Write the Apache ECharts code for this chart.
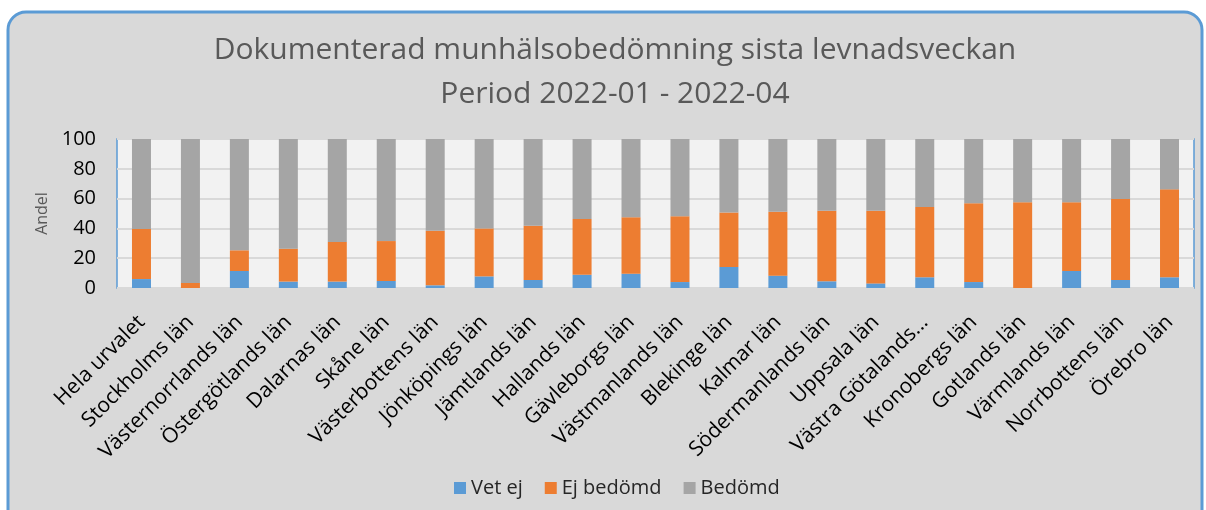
<!DOCTYPE html>
<html>
<head>
<meta charset="utf-8">
<script src="https://cdn.jsdelivr.net/npm/echarts@6/dist/echarts.min.js"></script>
<style>
    html, body { margin: 0; padding: 0; background: #fff; }
    #chart { width: 1206px; height: 510px; }
</style>
</head>
<body>
<div id="chart"></div>
<script>
// data (percent)
var categories = [
    "Hela urvalet", "Stockholms län", "Västernorrlands län", "Östergötlands län",
    "Dalarnas län", "Skåne län", "Västerbottens län", "Jönköpings län",
    "Jämtlands län", "Hallands län", "Gävleborgs län", "Västmanlands län",
    "Blekinge län", "Kalmar län", "Södermanlands län", "Uppsala län",
    "Västra Götalands...", "Kronobergs län", "Gotlands län", "Värmlands län",
    "Norrbottens län", "Örebro län"
];
var vetEj = [6.0, 0, 11.4, 4.3, 4.3, 4.7, 1.8, 7.8, 5.4, 8.9, 9.6, 4.0, 14.1, 8.3, 4.5, 3.1, 7.2, 4.0, 0, 11.4, 5.4, 7.2];
var ejBedomd = [33.6, 3.4, 13.9, 22.1, 26.6, 26.8, 36.7, 32.2, 36.4, 37.4, 37.8, 44.1, 36.5, 42.9, 47.4, 48.8, 47.2, 52.8, 57.5, 46.1, 54.3, 59.0];
var bedomd = [60.4, 96.6, 74.7, 73.6, 69.1, 68.5, 61.5, 60.0, 58.2, 53.7, 52.6, 51.9, 49.4, 48.8, 48.1, 48.1, 45.6, 43.2, 42.5, 42.5, 40.3, 33.8];
var yTicks = [0, 20, 40, 60, 80, 100];

var FONT = "Open Sans";

function bar(name, data, color) {
    return {
        name: name,
        type: "bar",
        stack: "total",
        barWidth: 19,
        data: data,
        itemStyle: { color: color },
        animation: false
    };
}

var chart = echarts.init(document.getElementById("chart"));
chart.setOption({
    backgroundColor: "#ffffff",
    textStyle: { fontFamily: FONT },
    graphic: [{
        type: "rect",
        z: -100,
        silent: true,
        shape: { x: 8, y: 12, width: 1194, height: 540, r: 18 },
        style: { fill: "#d9d9d9", stroke: "#5b9bd5", lineWidth: 3 }
    }],
    title: {
        text: "Dokumenterad munhälsobedömning sista levnadsveckan\nPeriod 2022-01 - 2022-04",
        left: 610,
        textAlign: "center",
        top: 23,
        textStyle: {
            fontFamily: FONT,
            fontSize: 30,
            fontWeight: "normal",
            color: "#595959",
            lineHeight: 44
        }
    },
    legend: {
        top: 473,
        left: 449,
        itemWidth: 12,
        itemHeight: 12,
        itemGap: 22,
        icon: "rect",
        textStyle: { fontFamily: FONT, fontSize: 20, color: "#262626" },
        data: ["Vet ej", "Ej bedömd", "Bedömd"]
    },
    grid: {
        left: 117,
        right: 12,
        top: 139,
        bottom: 222,
        show: true,
        backgroundColor: "#f2f2f2",
        borderColor: "#5b9bd5",
        borderWidth: 1.5
    },
    xAxis: {
        type: "category",
        data: categories,
        axisLine: { show: false },
        axisTick: { show: false },
        axisLabel: {
            rotate: 45,
            interval: 0,
            margin: 31,
            fontFamily: FONT,
            fontSize: 21,
            color: "#000"
        }
    },
    yAxis: {
        type: "value",
        min: yTicks[0],
        max: yTicks[yTicks.length - 1],
        interval: 20,
        name: "Andel",
        nameLocation: "middle",
        nameGap: 62,
        nameTextStyle: { fontFamily: FONT, fontSize: 16, color: "#595959" },
        axisLine: { show: false },
        axisTick: { show: false },
        axisLabel: { fontFamily: FONT, fontSize: 20, color: "#000", margin: 21 },
        splitLine: { lineStyle: { color: "#d9d9d9", width: 2 } }
    },
    series: [
        bar("Vet ej", vetEj, "#5b9bd5"),
        bar("Ej bedömd", ejBedomd, "#ed7d31"),
        bar("Bedömd", bedomd, "#a5a5a5")
    ]
});
</script>
</body>
</html>
